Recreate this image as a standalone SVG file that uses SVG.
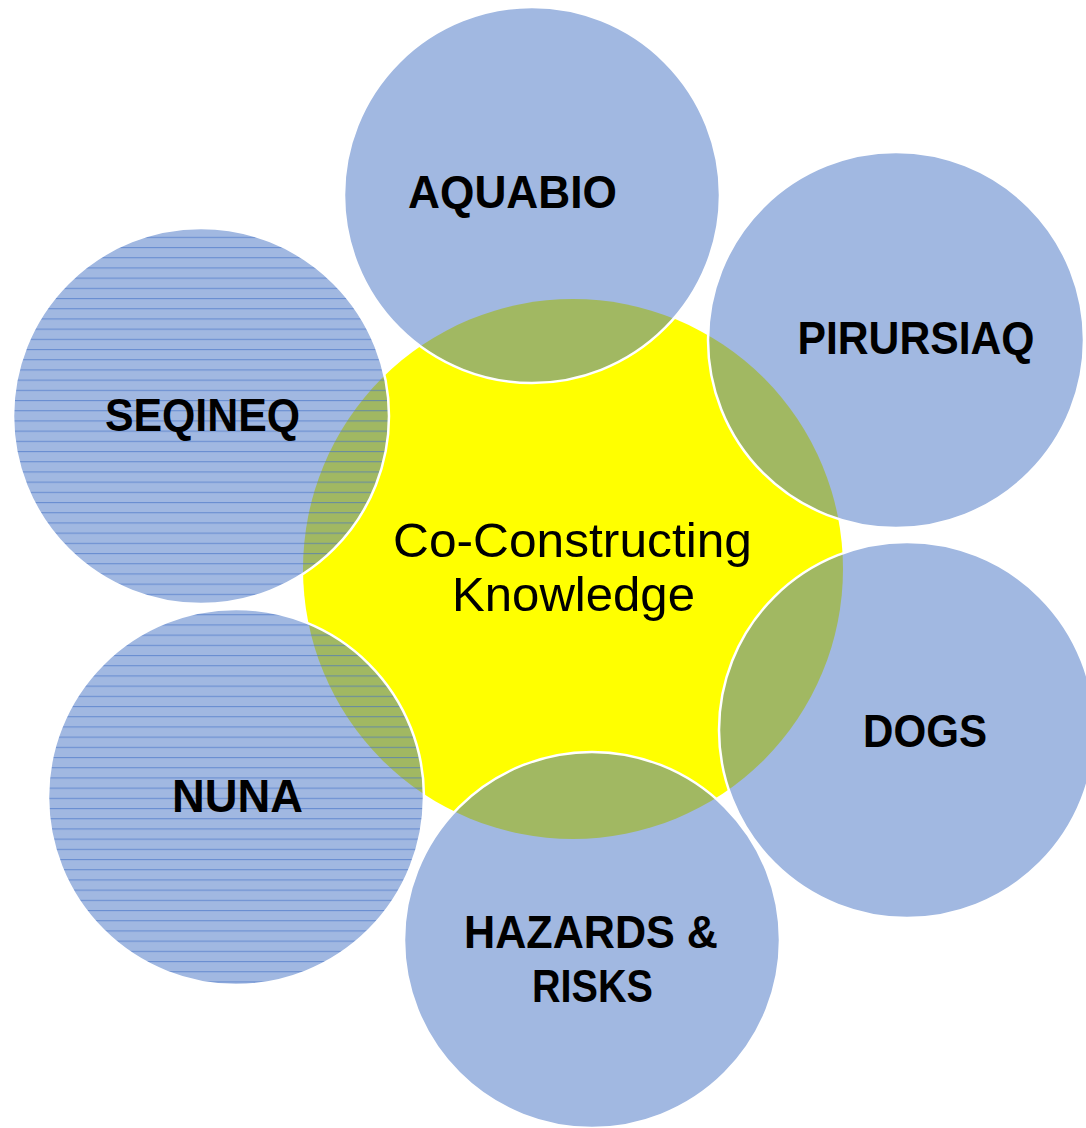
<svg xmlns="http://www.w3.org/2000/svg" width="1086" height="1128" viewBox="0 0 1086 1128">
  <style>
    .sat { fill: #4472C4; fill-opacity: 0.5; stroke: none; }
    .hatch { fill: url(#hl); stroke: none; }
    .ring { fill: none; stroke: #FFFFFF; stroke-width: 2.5; }
    .lbl { font-family: "Liberation Sans", Arial, sans-serif; font-weight: bold; font-size: 46px; fill: #000000; text-anchor: middle; }
    .ctr { font-family: "Liberation Sans", Arial, sans-serif; font-size: 49px; fill: #000000; text-anchor: middle; }
  </style>
  <defs>
    <pattern id="hl" patternUnits="userSpaceOnUse" x="0" y="247" width="20" height="10.2">
      <rect x="0" y="0" width="20" height="1.1" fill="#4472C4" fill-opacity="0.6"/>
    </pattern>
  </defs>
  <rect width="1086" height="1128" fill="#FFFFFF"/>
  <g id="connectors"/>
  <g id="center">
    <circle cx="573" cy="569" r="270" fill="#FFFF00"/>
  </g>
  <g id="aquabio">
    <circle class="sat" cx="532" cy="195" r="188"/>
    <circle class="ring" cx="532" cy="195" r="188"/>
    <text class="lbl" x="512.5" y="208" textLength="209" lengthAdjust="spacingAndGlyphs">AQUABIO</text>
  </g>
  <g id="pirursiaq">
    <circle class="sat" cx="896" cy="340" r="188"/>
    <circle class="ring" cx="896" cy="340" r="188"/>
    <text class="lbl" x="916" y="354" textLength="237" lengthAdjust="spacingAndGlyphs">PIRURSIAQ</text>
  </g>
  <g id="dogs">
    <circle class="sat" cx="907" cy="730" r="188"/>
    <circle class="ring" cx="907" cy="730" r="188"/>
    <text class="lbl" x="925" y="747" textLength="124" lengthAdjust="spacingAndGlyphs">DOGS</text>
  </g>
  <g id="hazards">
    <circle class="sat" cx="592" cy="940" r="188"/>
    <circle class="ring" cx="592" cy="940" r="188"/>
    <text class="lbl" x="591" y="948" textLength="254" lengthAdjust="spacingAndGlyphs">HAZARDS &amp;</text>
    <text class="lbl" x="592.5" y="1002" textLength="121" lengthAdjust="spacingAndGlyphs">RISKS</text>
  </g>
  <g id="nuna">
    <circle class="sat" cx="236" cy="797" r="188"/>
    <circle class="hatch" cx="236" cy="797" r="188"/>
    <circle class="ring" cx="236" cy="797" r="188"/>
    <text class="lbl" x="237.5" y="812" textLength="131" lengthAdjust="spacingAndGlyphs">NUNA</text>
  </g>
  <g id="seqineq">
    <circle class="sat" cx="201" cy="416" r="188"/>
    <circle class="hatch" cx="201" cy="416" r="188"/>
    <circle class="ring" cx="201" cy="416" r="188"/>
    <text class="lbl" x="202.5" y="431" textLength="195" lengthAdjust="spacingAndGlyphs">SEQINEQ</text>
  </g>
  <g id="center-label">
    <text class="ctr" x="572.5" y="557" textLength="359" lengthAdjust="spacingAndGlyphs">Co-Constructing</text>
    <text class="ctr" x="573.5" y="611" textLength="243" lengthAdjust="spacingAndGlyphs">Knowledge</text>
  </g>
</svg>
